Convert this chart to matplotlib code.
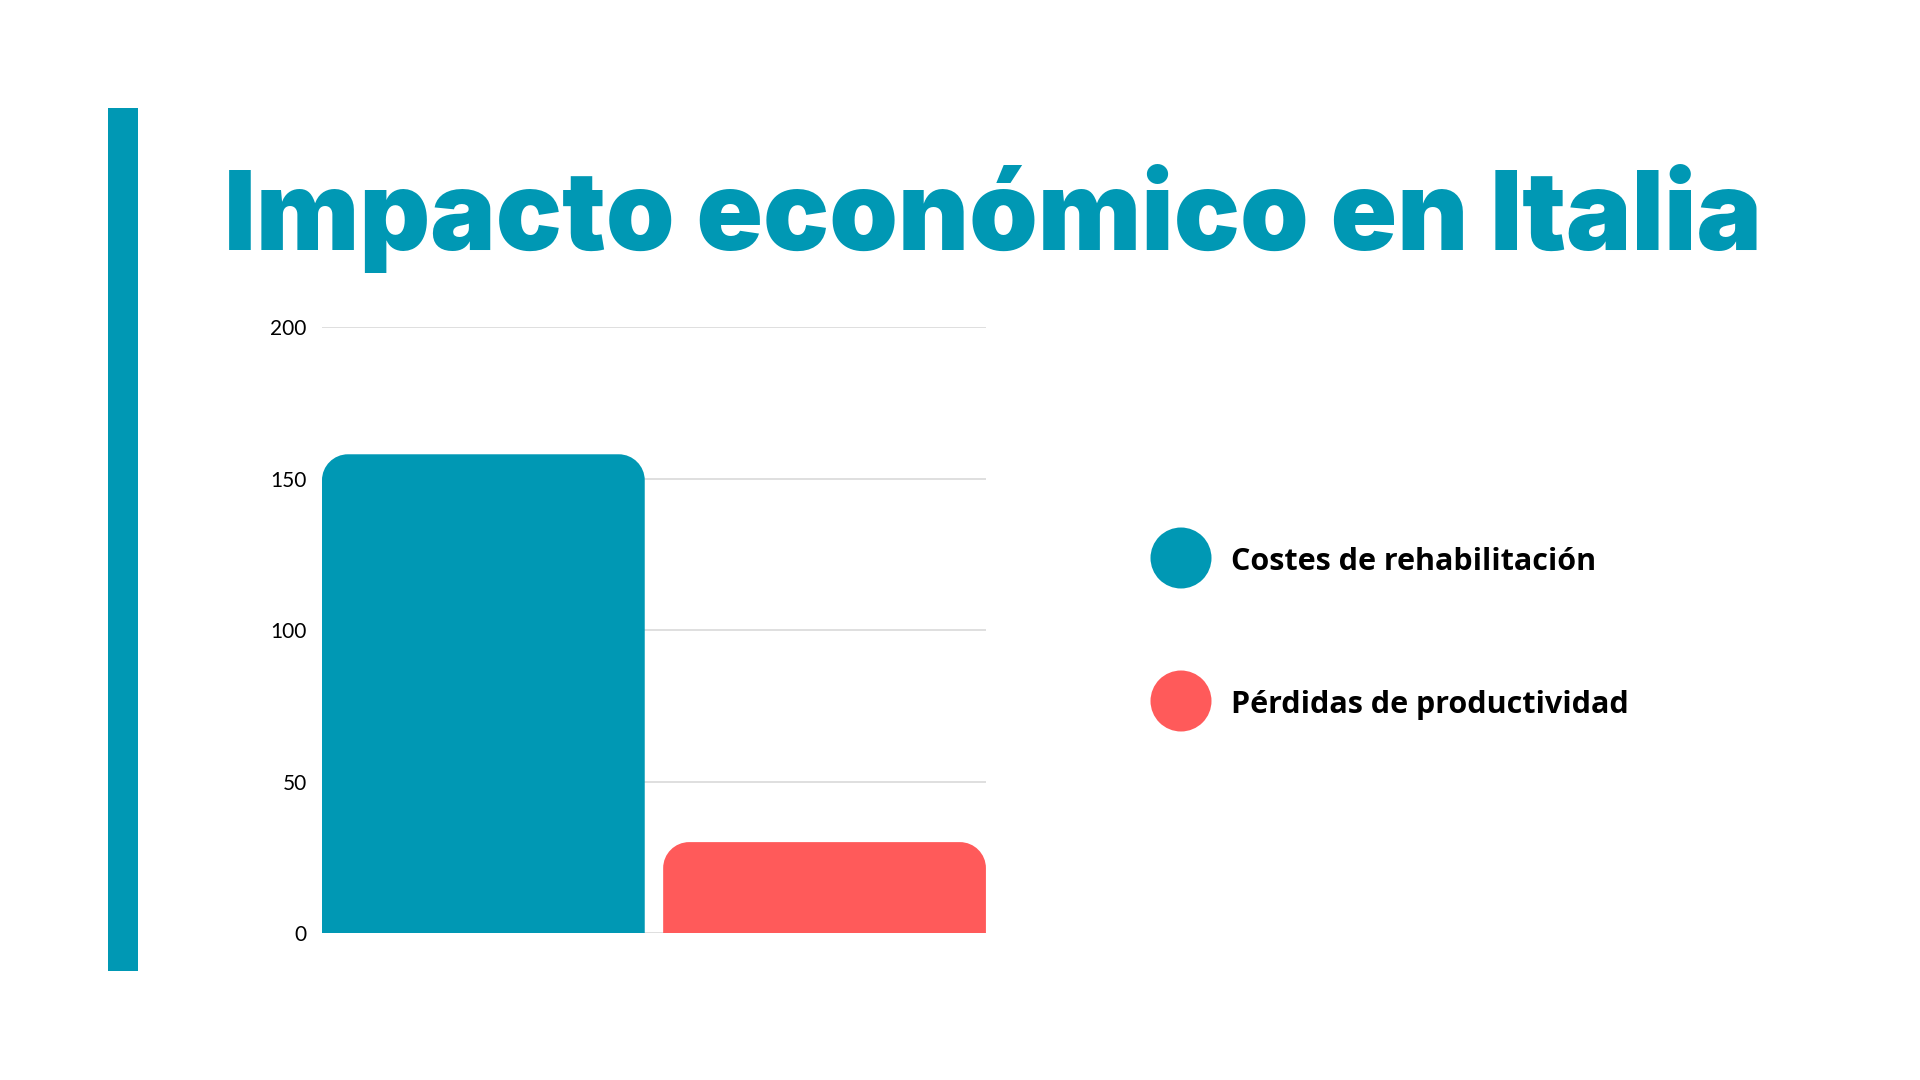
#!/usr/bin/env python3
"""Bar chart: impacto económico en Italia (two categories, rounded bars)."""
import matplotlib
matplotlib.use("Agg")
import matplotlib.pyplot as plt
from matplotlib.patches import PathPatch, Rectangle, Ellipse
from matplotlib.path import Path

TITLE = "Impacto económico en Italia"
categories = ["Costes de rehabilitación", "Pérdidas de productividad"]
values = [158, 30]
yticks = [0, 50, 100, 150, 200]

BLUE = "#0098b4"
RED = "#ff5a5a"
colors = [BLUE, RED]


def rounded_top(x0, w, h, rx, ry):
    k = 0.5523
    x1 = x0 + w
    verts = [
        (x0, 0), (x0, h - ry),
        (x0, h - ry + k * ry), (x0 + rx - k * rx, h), (x0 + rx, h),
        (x1 - rx, h),
        (x1 - rx + k * rx, h), (x1, h - ry + k * ry), (x1, h - ry),
        (x1, 0), (x0, 0),
    ]
    codes = [Path.MOVETO, Path.LINETO,
             Path.CURVE4, Path.CURVE4, Path.CURVE4,
             Path.LINETO,
             Path.CURVE4, Path.CURVE4, Path.CURVE4,
             Path.LINETO, Path.CLOSEPOLY]
    return Path(verts, codes)


def main():
    fig = plt.figure(figsize=(19.2, 10.8), dpi=100)
    fig.patch.set_facecolor("white")

    # left accent stripe
    fig.add_artist(Rectangle((0.05625, 0.1009), 0.0156, 0.799,
                             transform=fig.transFigure, color=BLUE, lw=0))

    fig.text(0.1165, 0.7685, TITLE, family="Inter", fontweight="black",
             fontsize=79, color=BLUE, ha="left", va="baseline")

    ax = fig.add_axes([0.1677, 0.1361, 0.3458, 0.5611])
    ax.set_xlim(-0.473, 1.473)
    ax.set_ylim(0, 200)
    ax.set_yticks(yticks)
    ax.set_yticklabels([str(t) for t in yticks], family="Lato", fontsize=15)
    ax.set_xticks([])
    ax.tick_params(axis="y", length=0, pad=11)
    for s in ax.spines.values():
        s.set_visible(False)
    ax.grid(axis="y", color="#d9d9d9", lw=1.2)
    ax.set_axisbelow(True)

    bars = ax.bar(range(len(values)), values, width=0.946, color=colors)

    # turn each bar into a top-rounded shape of ~25 px radius
    bbox = ax.get_window_extent()
    dx = 1.946 / bbox.width
    dy = 200 / bbox.height
    r_px = 26
    for bar, c in zip(bars, colors):
        bar.set_visible(False)
        path = rounded_top(bar.get_x(), bar.get_width(), bar.get_height(),
                           r_px * dx, r_px * dy)
        ax.add_patch(PathPatch(path, facecolor=c, lw=0, zorder=2))

    # legend
    for i, (lab, c) in enumerate(zip(categories, colors)):
        yc = 1 - (558 + i * 143) / 1080
        fig.add_artist(Ellipse((1181 / 1920, yc), 61 / 1920, 61 / 1080,
                               transform=fig.transFigure, color=c, lw=0))
        fig.text(1231 / 1920, yc - 4 / 1080, lab, family="Open Sans", fontweight="bold",
                 fontsize=22, color="black", ha="left", va="center")

    fig.savefig("out.png", dpi=100)


if __name__ == "__main__":
    main()
